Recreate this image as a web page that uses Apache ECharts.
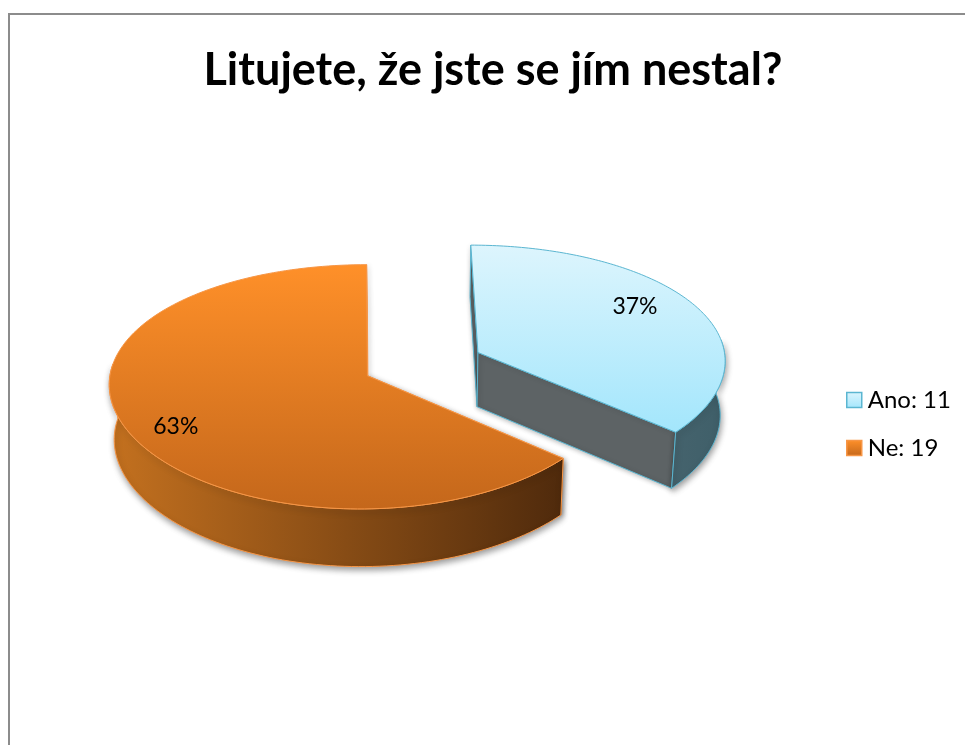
<!DOCTYPE html>
<html>
<head>
<meta charset="utf-8">
<style>
    html, body { margin: 0; padding: 0; background: #fff; }
    #chart { width: 965px; height: 745px; }
</style>
<script src="https://cdn.jsdelivr.net/npm/echarts@6/dist/echarts.min.js"></script>
</head>
<body>
<div id="chart"></div>
<script>
    var chartTitle = 'Litujete, že jste se jím nestal?';
    var categories = ['Ano', 'Ne'];
    var values = [11, 19];

    var total = values[0] + values[1];
    var font = 'Lato, "Open Sans", sans-serif';

    // projection of the tilted pie
    var cx = 419, cy = 364, scaleX = 252, scaleY = 119;
    var perspX = 0.06, perspY = 0.09;
    var depth = 54.5, explode = 0.24, apexShift = 4, warp = 0.035;

    var labelR = [0.72, 0.79];
    var labelShift = [-13, 11];

    var styles = [
        {
            top: ['#DDF5FD', '#A3E6FC'],
            wall: ['#45636D', '#3F5F69'],
            cut: '#5D6365',
            edge: '#5BB6D1'
        },
        {
            top: ['#FF9029', '#C4671B'],
            wall: ['#C4711F', '#4F2A0C'],
            cut: '#C9701F',
            edge: '#F79646'
        }
    ];

    function project(X, Y, z) {
        var px = X * scaleX / (1 - perspX * Y);
        var py = Y * scaleY / (1 - perspY * Y);
        if (z) {
            px *= 0.984;
            py += depth / (1 - 0.05 * Y);
        }
        return [cx + px, cy + py];
    }

    function gradient(c, horizontal) {
        return {
            type: 'linear', x: 0, y: 0, x2: horizontal ? 1 : 0, y2: horizontal ? 0 : 1,
            colorStops: [{offset: 0, color: c[0]}, {offset: 1, color: c[1]}]
        };
    }

    function renderSlice(index) {
        return function (params, api) {
            var value = api.value(0);
            var start = 0;
            for (var i = 0; i < index; i++) start += values[i];
            var a0 = start / total * Math.PI * 2;
            var a1 = (start + value) / total * Math.PI * 2;
            var mid = (a0 + a1) / 2;
            var ox = Math.sin(mid) * explode, oy = -Math.cos(mid) * explode;
            var st = styles[index];

            function rim(a, z) {
                var b = a + warp * Math.sin(2 * a);
                return project(ox + Math.sin(b), oy - Math.cos(b), z);
            }
            var apexTop = project(ox, oy, 0), apexBottom = project(ox, oy, 1);
            apexTop[0] += apexShift;
            apexBottom[0] += apexShift;

            var topPts = [apexTop], wallPts = [], wallBack = [];
            var steps = 160;
            for (var s = 0; s <= steps; s++) {
                var a = a0 + (a1 - a0) * s / steps;
                topPts.push(rim(a, 0));
                // only the part of the rim turned towards the viewer has a wall
                if (-Math.cos(a) > -0.12) {
                    wallPts.push(rim(a, 0));
                    wallBack.unshift(rim(a, 1));
                }
            }

            function cutFace(a) {
                return {
                    type: 'polygon',
                    shape: {points: [apexTop, rim(a, 0), rim(a, 1), apexBottom]},
                    style: {
                        fill: st.cut, stroke: st.edge, lineWidth: 1,
                        shadowBlur: 5, shadowColor: 'rgba(0,0,0,0.3)', shadowOffsetX: 1, shadowOffsetY: 1
                    }
                };
            }

            var lr = labelR[index];
            var lp = project(ox + Math.sin(mid) * lr, oy - Math.cos(mid) * lr, 0);

            return {
                type: 'group',
                children: [
                    cutFace(a0),
                    cutFace(a1),
                    {
                        type: 'polygon',
                        shape: {points: wallPts.concat(wallBack)},
                        style: {
                            fill: gradient(st.wall, true), stroke: st.edge, lineWidth: 1,
                            shadowBlur: 6, shadowColor: 'rgba(0,0,0,0.4)', shadowOffsetX: 1, shadowOffsetY: 3
                        }
                    },
                    {
                        type: 'polygon',
                        shape: {points: topPts},
                        style: {fill: gradient(st.top, false), stroke: st.edge, lineWidth: 1}
                    },
                    {
                        type: 'text',
                        x: lp[0],
                        y: lp[1] + labelShift[index],
                        style: {
                            text: Math.round(value / total * 100) + '%',
                            fill: '#000', fontSize: 23, fontFamily: font,
                            align: 'center', verticalAlign: 'middle'
                        }
                    }
                ]
            };
        };
    }

    var legendNames = [], seriesList = [];
    categories.forEach(function (name, i) {
        var label = name + ': ' + values[i];
        legendNames.push({
            name: label,
            itemStyle: {color: gradient(styles[i].top, false), borderColor: styles[i].edge, borderWidth: 1.5}
        });
        seriesList.push({
            type: 'custom',
            name: label,
            coordinateSystem: 'none',
            silent: true,
            animation: false,
            renderItem: renderSlice(i),
            data: [values[i]]
        });
    });

    var chart = echarts.init(document.getElementById('chart'), null, {renderer: 'canvas'});
    chart.setOption({
        backgroundColor: '#fff',
        animation: false,
        title: {
            text: chartTitle,
            left: 488,
            top: 43,
            textAlign: 'center',
            textStyle: {fontFamily: font, fontSize: 45, fontWeight: 'bold', color: '#000'}
        },
        legend: {
            data: legendNames,
            orient: 'vertical',
            left: 841,
            top: 383,
            itemWidth: 15,
            itemHeight: 15,
            itemGap: 24,
            selectedMode: false,
            icon: 'rect',
            textStyle: {fontFamily: font, fontSize: 24, color: '#000', padding: [0, 0, 0, 1]}
        },
        graphic: [{
            type: 'polyline',
            silent: true,
            shape: {points: [[965, 14], [9, 14], [9, 745]]},
            style: {fill: 'none', stroke: '#8C8C8C', lineWidth: 2}
        }],
        series: seriesList
    });
</script>
</body>
</html>
